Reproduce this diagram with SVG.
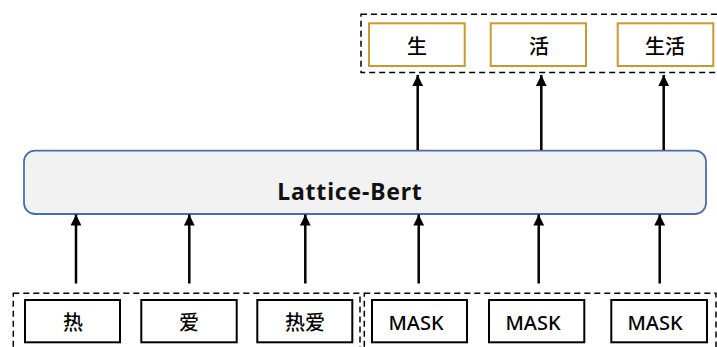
<svg xmlns="http://www.w3.org/2000/svg" width="717" height="347" viewBox="0 0 717 347">
  <defs>
    <marker id="ah" markerUnits="userSpaceOnUse" markerWidth="12" markerHeight="12" viewBox="0 0 12 12" refX="11" refY="6" orient="auto">
      <path d="M0,0.6 L11,6 L0,11.4 Z" fill="#000"/>
    </marker>
    <style>
      .dash{fill:none;stroke:#000;stroke-width:1.5;stroke-dasharray:6 4}
      .tok{fill:#fff;stroke:#000;stroke-width:2}
      .out{fill:#fff;stroke:#C99A2E;stroke-width:2}
      .lbl{font-family:"Noto Sans","Noto Sans CJK SC",sans-serif;font-size:20px;font-weight:500;fill:#000;text-anchor:middle;dominant-baseline:central}
      .arr{stroke:#000;stroke-width:2.5;fill:none;marker-end:url(#ah)}
    </style>
  </defs>
  <rect width="717" height="347" fill="#fff"/>

  <g id="output-group">
    <rect class="dash" x="361" y="14.3" width="358" height="58.2"/>
  </g>
  <g id="out-sheng">
    <rect class="out" x="369" y="23.3" width="95.7" height="42.7"/>
    <text class="lbl" x="417" y="46">生</text>
  </g>
  <g id="out-huo">
    <rect class="out" x="490.7" y="23.3" width="95.3" height="42.7"/>
    <text class="lbl" x="539" y="46">活</text>
  </g>
  <g id="out-shenghuo">
    <rect class="out" x="617.7" y="23.3" width="95.6" height="42.7"/>
    <text class="lbl" x="665" y="46">生活</text>
  </g>

  <g id="lattice-bert">
    <rect x="24" y="150.7" width="682" height="63.3" rx="11" ry="11" fill="#F2F2F2" stroke="#4A6FA8" stroke-width="1.8"/>
    <text x="350" y="191" font-family="'Noto Sans','Noto Sans CJK SC',sans-serif" font-size="23" font-weight="bold" text-anchor="middle" dominant-baseline="central" letter-spacing="0.8" fill="#111">Lattice-Bert</text>
  </g>

  <g id="input-words-group">
    <rect class="dash" x="13.3" y="293.3" width="346.7" height="60"/>
  </g>
  <g id="input-mask-group">
    <rect class="dash" x="364.3" y="293.3" width="351.7" height="60"/>
  </g>
  <g id="in-re">
    <rect class="tok" x="25" y="300" width="95" height="42.3"/>
    <text class="lbl" x="73" y="322">热</text>
  </g>
  <g id="in-ai">
    <rect class="tok" x="141.3" y="300" width="95.4" height="42.3"/>
    <text class="lbl" x="189" y="322">爱</text>
  </g>
  <g id="in-reai">
    <rect class="tok" x="257.3" y="300" width="95" height="42.3"/>
    <text class="lbl" x="305" y="322">热爱</text>
  </g>
  <g id="in-mask1">
    <rect class="tok" x="372" y="300" width="95" height="42.3"/>
    <text class="lbl" x="416" y="322">MASK</text>
  </g>
  <g id="in-mask2">
    <rect class="tok" x="489" y="300" width="95.3" height="42.3"/>
    <text class="lbl" x="533" y="322">MASK</text>
  </g>
  <g id="in-mask3">
    <rect class="tok" x="611.3" y="300" width="95.7" height="42.3"/>
    <text class="lbl" x="655" y="322">MASK</text>
  </g>

  <g id="connectors">
    <line class="arr" x1="76" y1="283.5" x2="76" y2="214.5"/>
    <line class="arr" x1="189.3" y1="283.5" x2="189.3" y2="214.5"/>
    <line class="arr" x1="305.3" y1="283.5" x2="305.3" y2="214.5"/>
    <line class="arr" x1="418.7" y1="283.5" x2="418.7" y2="214.5"/>
    <line class="arr" x1="538.7" y1="283.5" x2="538.7" y2="214.5"/>
    <line class="arr" x1="659.7" y1="283.5" x2="659.7" y2="214.5"/>
    <line class="arr" x1="417.7" y1="150" x2="417.7" y2="75"/>
    <line class="arr" x1="541.3" y1="150" x2="541.3" y2="75"/>
    <line class="arr" x1="663.7" y1="150" x2="663.7" y2="75"/>
  </g>
</svg>
